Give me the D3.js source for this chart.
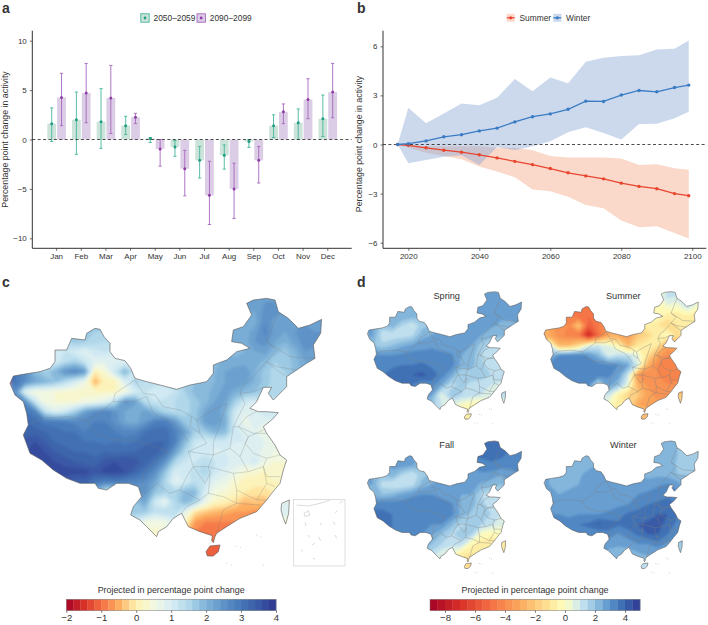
<!DOCTYPE html>
<html>
<head>
<meta charset="utf-8">
<script src="https://cdn.jsdelivr.net/npm/d3@7"></script>
<style>
  html, body { margin: 0; background: #fff; }
  svg { display: block; font-family: "Liberation Sans", Arial, sans-serif; }
  text { fill: #333; }
</style>
</head>
<body>
<div id="plot"></div>
<script>
// ---- panel a: monthly change
const months = ["Jan","Feb","Mar","Apr","May","Jun","Jul","Aug","Sep","Oct","Nov","Dec"];
const mid2050 = [1.6,2.0,1.8,1.4,0.1,-0.75,-2.1,-1.6,-0.2,1.4,1.7,2.1];
const low2050 = [-0.2,-1.5,-0.9,0.5,-0.3,-1.7,-3.9,-3.0,-0.8,0.2,0.0,0.3];
const high2050 = [3.2,4.8,5.15,2.35,0.2,-0.1,-0.7,-0.55,0.0,2.5,3.1,4.5];
const mid2090 = [4.25,4.7,4.2,2.25,-0.95,-2.95,-5.65,-5.0,-2.1,2.8,4.05,4.8];
const low2090 = [1.4,1.7,0.6,1.6,-2.7,-5.7,-8.6,-8.0,-4.4,1.6,2.1,2.2];
const high2090 = [6.7,7.7,7.5,2.65,0.0,-1.1,-2.2,-2.4,-0.7,3.6,6.15,7.7];

// ---- panel b: seasonal trend
const years = [2017,2020,2025,2030,2035,2040,2045,2050,2055,2060,2065,2070,2075,2080,2085,2090,2095,2099];
const winterMid = [0,0.05,0.22,0.47,0.6,0.83,1.0,1.38,1.7,1.87,2.15,2.65,2.63,3.02,3.3,3.22,3.48,3.63];
const winterHigh = [0,2.25,1.3,1.9,2.5,2.4,2.85,4.0,3.25,4.1,3.75,5.05,5.3,5.4,5.45,5.8,5.85,6.35];
const winterLow = [0,-1.15,-0.95,-0.75,-0.65,-1.25,-0.15,-0.35,-0.1,0.2,0.75,1.05,0.7,0.3,1.25,1.27,1.6,2.0];
const summerMid = [0,-0.05,-0.2,-0.35,-0.47,-0.63,-0.82,-1.03,-1.23,-1.47,-1.73,-1.92,-2.1,-2.36,-2.56,-2.7,-3.0,-3.13];
const summerHigh = [0,0,-0.1,-0.1,-0.1,-0.1,-0.2,-0.2,-0.35,-0.7,-0.8,-0.8,-0.8,-0.85,-1.25,-1.2,-1.45,-1.55];
const summerLow = [0,-0.2,-0.5,-0.7,-0.9,-1.35,-1.65,-2.0,-2.75,-2.85,-3.2,-3.7,-3.9,-4.65,-5.05,-5.0,-5.4,-5.75];

// ---- maps: outline and borders, in map units
const chinaOutline = [[30,340],[40,318],[75,312],[120,305],[150,295],[165,275],[165,240],[200,240],[215,205],[255,210],[260,190],[285,175],[300,178],[312,200],[330,220],[330,245],[345,265],[375,272],[392,295],[405,325],[440,335],[480,345],[530,358],[570,345],[620,335],[640,310],[640,285],[680,270],[710,245],[750,235],[725,220],[695,215],[700,180],[730,170],[755,135],[740,100],[760,90],[800,85],[825,90],[835,125],[865,145],[895,175],[930,165],[965,148],[962,190],[940,225],[945,265],[920,280],[890,300],[860,320],[860,350],[820,390],[805,370],[815,352],[790,352],[770,395],[750,415],[775,425],[800,425],[835,428],[815,450],[790,470],[800,490],[825,525],[840,555],[860,570],[850,600],[840,640],[815,670],[800,690],[770,725],[720,745],[680,770],[650,790],[645,800],[640,818],[635,812],[637,797],[600,785],[565,770],[545,730],[520,745],[500,770],[475,785],[470,800],[440,770],[420,750],[392,735],[400,710],[425,680],[415,650],[385,640],[350,640],[320,660],[295,655],[285,640],[240,640],[200,625],[160,600],[125,570],[90,550],[70,495],[85,465],[80,430],[70,395],[45,375],[30,340]];
const taiwanOutline = [[845,700],[868,690],[866,730],[857,762],[850,745],[843,720],[845,700]];
const hainanOutline = [[618,845],[630,828],[660,825],[655,845],[640,858],[622,858],[618,845]];
const provinceBorders = [
  [[85,465],[120,445],[200,440],[260,450],[290,435],[340,395],[345,370],[405,330]],
  [[260,450],[285,490],[345,510],[395,510],[450,525],[505,545]],
  [[505,545],[470,570],[430,610],[425,680]],
  [[340,395],[400,395],[440,380],[460,430],[520,460],[540,480],[565,515]],
  [[405,330],[430,370],[465,375],[490,410],[540,420],[575,440]],
  [[575,440],[570,470],[600,490],[590,450],[575,440]],
  [[590,450],[640,420],[680,400]],
  [[600,490],[620,520],[565,545],[640,555]],
  [[680,400],[660,460],[640,520],[640,555],[690,535],[700,470],[735,400]],
  [[735,400],[720,370],[760,365],[790,352]],
  [[860,320],[830,300],[800,275],[830,240],[800,215],[835,125]],
  [[800,275],[760,320],[730,345],[720,370]],
  [[800,215],[870,260],[945,265]],
  [[800,275],[830,290],[890,300]],
  [[770,425],[740,440],[715,470],[760,490],[800,490]],
  [[700,470],[715,470],[745,500],[720,560],[690,535]],
  [[745,500],[790,480]],
  [[745,500],[735,520],[760,550],[800,565],[840,555]],
  [[720,560],[745,605],[790,590],[800,565]],
  [[640,555],[625,590],[700,610],[745,605]],
  [[565,545],[580,590],[625,590]],
  [[580,590],[615,640],[630,610],[625,590]],
  [[700,610],[710,660],[710,700],[780,705]],
  [[790,590],[800,640],[770,690],[710,660]],
  [[790,590],[800,620],[840,620]],
  [[800,640],[825,650]],
  [[770,690],[800,690]],
  [[710,700],[670,720],[650,790]],
  [[630,610],[625,670],[600,690],[540,660],[560,620],[580,590]],
  [[425,680],[470,640],[510,670],[540,660]],
  [[545,730],[560,710],[600,690]],
  [[625,670],[670,680],[710,700]]
];
const smallIslands = [[770,795],[782,800],[708,828],[722,832],[680,880],[695,885],[790,885]];
const insetLines = [
  [[890,705],[925,708],[960,700],[990,690]],
  [[912,730],[925,722],[930,735],[915,740],[912,730]],
  [[1018,700],[1030,692]],[[1005,730],[1012,722]],[[1000,755],[1005,765]],
  [[915,758],[918,768]],[[960,758],[965,765]],[[925,795],[928,802]],
  [[955,800],[962,812]],[[935,825],[945,820]],[[1005,795],[1010,805]],
  [[905,838],[908,845]],[[938,865],[946,868]]
];

const _ = null;
// annual change on a 30-unit grid starting at map unit (30,80)
const fieldAnnual = [
  [_,_,_,_,_,_,_,_,_,_,_,_,_,_,_,_,_,_,_,_,_,_,_,_,2.3,2.4,2.4],
  [_,_,_,_,_,_,_,_,_,_,_,_,_,_,_,_,_,_,_,_,_,_,_,2.2,2.2,2.5,2.5],
  [_,_,_,_,_,_,_,_,_,_,_,_,_,_,_,_,_,_,_,_,_,_,_,2.0,2.1,2.6,2.3,2.2,_,_,2.2],
  [_,_,_,_,_,_,_,_,1.6,1.6,_,_,_,_,_,_,_,_,_,_,_,_,2.0,2.1,2.3,2.7,2.3,2.2,2.4,2.5,2.4],
  [_,_,_,_,_,_,1.7,1.6,1.5,1.4,_,_,_,_,_,_,_,_,_,_,_,_,2.0,2.1,2.4,2.5,2.2,2.0,2.3,2.5,2.5],
  [_,_,_,_,1.0,1.2,1.0,0.9,1.1,1.2,_,_,_,_,_,_,_,_,_,_,_,_,1.9,2.0,2.2,2.3,1.9,1.7,2.0,2.4,2.3],
  [_,_,_,_,1.0,1.4,1.6,1.2,0.9,0.8,0.9,0.9,_,_,_,_,_,_,_,_,1.9,2.1,2.1,2.1,2.1,1.9,1.6,1.6,1.9,2.2],
  [_,_,_,1.6,2.0,2.5,2.7,2.4,0.0,0.4,1.2,2.0,1.2,_,_,_,_,_,_,_,2.0,2.2,2.3,2.4,2.0,1.7,1.5,1.6,1.9],
  [3.0,2.6,2.2,2.0,1.8,1.4,1.0,0.6,-0.5,0.1,0.1,0.9,1.5,1.4,1.3,1.3,_,1.7,1.8,1.9,2.0,2.2,2.4,2.3,2.0,1.7,1.5,1.5],
  [2.6,0.8,0.5,0.5,0.4,0.4,0.3,0.3,0.2,0.2,0.2,0.5,1.0,1.2,1.1,1.0,1.2,1.6,1.9,1.9,2.1,2.3,2.1,1.9,1.8,1.6,1.5],
  [_,2.6,1.2,0.5,0.4,0.4,0.4,0.5,0.6,0.8,1.4,2.5,2.3,1.4,1.2,1.3,1.4,1.5,1.7,1.9,2.2,2.2,1.6,1.1,1.0],
  [_,3.0,2.8,1.3,0.9,1.1,1.6,2.3,2.6,2.8,2.5,2.2,2.0,2.3,1.9,1.5,1.4,1.5,1.7,2.2,2.4,2.0,1.1,0.8,0.9,1.2,1.1],
  [_,3.2,3.1,2.9,2.9,2.8,2.7,2.7,2.8,2.8,2.5,2.2,2.1,2.4,2.8,2.9,2.4,1.7,1.7,2.3,2.4,2.1,1.0,0.7,0.9,0.8],
  [_,3.3,3.3,3.2,3.1,3.0,3.0,2.8,2.9,2.9,2.8,2.7,2.7,3.0,3.1,3.1,2.8,2.3,1.6,1.7,2.0,1.9,1.1,0.9,0.8,0.7],
  [_,3.5,3.6,3.4,3.2,3.1,3.1,3.0,3.0,2.9,3.0,2.9,3.0,3.1,3.2,3.2,2.8,1.9,1.2,1.0,1.1,1.1,1.0,1.0,0.9,0.8,0.7],
  [_,_,3.7,3.6,3.4,3.3,3.2,3.2,3.1,3.2,3.1,3.2,3.2,3.4,3.3,3.1,2.3,1.5,1.1,1.1,0.9,1.0,0.9,0.9,0.9,0.7,0.6,0.6],
  [_,_,_,3.7,3.6,3.5,3.4,3.3,3.3,3.5,3.6,3.6,3.5,3.3,3.0,2.5,1.5,1.2,1.2,1.4,1.2,1.1,0.9,0.9,1.1,0.6,0.4,0.4],
  [_,_,_,_,3.7,3.7,3.7,3.7,3.5,3.7,3.7,3.6,3.3,3.0,2.6,1.8,1.0,1.1,1.3,1.6,1.1,0.9,0.7,0.4,0.3,0.2,0.3],
  [_,_,_,_,_,_,3.3,3.3,3.0,2.8,2.9,2.8,2.7,2.6,2.2,1.5,0.8,1.0,1.4,1.2,0.8,0.7,0.3,0.1,0.1,0.1,0.2],
  [_,_,_,_,_,_,_,_,_,1.2,1.2,_,_,2.5,1.8,1.6,1.5,1.9,1.9,1.0,0.5,0.4,0.2,0.0,-0.1,-0.1],
  [_,_,_,_,_,_,_,_,_,_,_,_,1.8,2.2,1.1,0.7,1.5,2.0,1.6,0.7,0.2,0.1,-0.1,-0.4,-0.3,-0.4,_,0.8],
  [_,_,_,_,_,_,_,_,_,_,_,_,1.7,1.7,1.3,1.4,1.4,0.8,-0.1,-0.3,-0.4,-0.5,-0.6,-0.6,-0.7,_,_,1.0],
  [_,_,_,_,_,_,_,_,_,_,_,_,_,0.6,0.5,0.6,1.0,0.2,-0.6,-0.8,-0.8,-0.8,-0.8,_,_,_,_,0.4],
  [_,_,_,_,_,_,_,_,_,_,_,_,_,_,0.3,_,_,_,-0.8,-0.9,-0.9,-0.9],
  [_,_,_,_,_,_,_,_,_,_,_,_,_,_,_,_,_,_,_,_,-1.0],
  [_,_,_,_,_,_,_,_,_,_,_,_,_,_,_,_,_,_,_,-1.1,-1.1],
  [_]
];
// seasonal change on a 60-unit grid starting at the same corner
const fieldSpring = [
  [_,_,_,_,_,_,_,_,_,_,_,_,2.8,2.8],
  [_,_,_,_,_,_,_,_,_,_,_,2.6,2.8,2.8,2.8],
  [_,_,_,2.5,2.4,_,_,_,_,_,_,2.6,2.7,2.6,2.6,2.6],
  [_,_,2.3,1.5,0.9,1.8,_,_,_,_,2.5,2.6,2.6,2.4,2.4],
  [2.6,1.2,1.1,1.2,1.4,2.3,2.5,2.5,2.5,2.6,2.6,2.5,2.2],
  [_,1.6,2.0,2.4,2.6,2.8,2.9,2.7,2.5,2.6,2.5,1.8,1.4,1.6],
  [_,3.0,3.0,3.1,3.3,3.2,3.2,3.2,3.1,2.5,2.3,1.5,1.2,1.0],
  [_,3.3,3.4,3.5,3.5,3.6,3.4,3.4,3.3,2.3,2.2,1.6,1.3,1.1],
  [_,_,3.7,3.9,4.0,4.2,3.8,3.3,2.5,1.5,1.7,1.8,1.5,1.2],
  [_,_,_,_,3.5,3.0,3.3,2.5,1.3,1.6,1.4,1.2,1.0,0.9],
  [_,_,_,_,_,_,2.6,0.5,2.0,1.5,1.3,1.0,0.9,1.2],
  [_,_,_,_,_,_,_,1.0,0.7,0.1,-0.3,-0.5,-0.5,0.6],
  [_,_,_,_,_,_,_,_,_,-1.0,-1.0]
];
const fieldSummer = [
  [_,_,_,_,_,_,_,_,_,_,_,_,1.2,1.0],
  [_,_,_,_,_,_,_,_,_,_,_,-0.5,0.4,0.2,1.2],
  [_,_,_,-5,-5,_,_,_,_,_,_,0,-0.8,-0.8,-0.5,-0.8],
  [_,_,-4,-2,-5.5,-4.5,_,_,_,_,-0.5,-1,-1.5,-1,-0.5],
  [-3,-3.8,-4.2,-4.5,-7.5,-5,-3,-3,-3.5,-2,-1.5,-0.5,0],
  [1,-2.5,-2.5,-1.5,0.5,1,0.5,-0.5,-2.5,-1,-0.5,-1,-3.2,-3],
  [_,3,3.2,3.3,2.9,2.2,0.8,1.2,1.2,0.5,-1.2,-3.2,-4,-3.6],
  [_,3.2,3.5,3.4,3.4,3.2,3.1,3,2.5,0.8,-2.8,-4,-4.2,-4.2],
  [_,_,3.4,3.4,3.4,3.4,3.1,2.8,1,-3.6,-4,-4,-4.2,-4.5],
  [_,_,_,_,3,1,2.8,2,0.5,-2.8,-3.6,-4,-4,-3.6],
  [_,_,_,_,_,_,1,-0.5,-1.5,-2,-3.2,-3.8,-3.6,-2],
  [_,_,_,_,_,_,_,-0.8,-1.2,-3,-3.2,-3.2,-3,-2],
  [_,_,_,_,_,_,_,_,_,-2.5,-2.5]
];
const fieldFall = [
  [_,_,_,_,_,_,_,_,_,_,_,_,3.6,3.6],
  [_,_,_,_,_,_,_,_,_,_,_,3.6,3.7,3.6,3.4],
  [_,_,_,2.8,2.6,_,_,_,_,_,_,3.3,3.4,3.3,3.3,3.4],
  [_,_,2.4,1.5,1.0,1.8,_,_,_,_,2.8,2.9,2.8,2.5,2.6],
  [2.5,1.3,1.0,1.0,1.3,2.2,2.5,2.5,2.6,2.7,2.7,2.4,2.2],
  [_,2.0,2.2,2.6,2.9,3.0,3.0,2.8,2.5,2.5,2.5,1.5,1.1,1.3],
  [_,3.4,3.4,3.3,3.3,3.2,3.2,3.3,3.1,2.3,2.2,1.7,1.2,1.0],
  [_,3.6,3.5,3.4,3.3,3.4,3.4,3.4,3.2,2.3,1.9,1.7,1.5,1.0],
  [_,_,3.5,3.4,3.3,3.2,3.0,3.0,2.2,1.4,1.6,1.5,1.1,0.7],
  [_,_,_,_,3.0,3.0,2.6,2.0,1.4,1.8,1.6,0,-0.3,-0.2],
  [_,_,_,_,_,_,2.0,1.5,1.2,1.3,-0.3,-0.8,-1.0,-0.6],
  [_,_,_,_,_,_,_,0.6,0.3,-0.8,-1.0,-1.0,-1.0,-0.6],
  [_,_,_,_,_,_,_,_,_,-1.3,-1.3]
];
const fieldWinter = [
  [_,_,_,_,_,_,_,_,_,_,_,_,2.2,2.0],
  [_,_,_,_,_,_,_,_,_,_,_,2.2,2.3,2.0,1.8],
  [_,_,_,2.2,2.3,_,_,_,_,_,_,2.2,2.3,1.9,1.9,1.9],
  [_,_,2.3,2.4,2.7,2.8,_,_,_,_,2.3,2.4,2.3,2.0,2.0],
  [2.5,2.3,2.4,2.5,2.9,2.9,2.6,2.5,2.6,2.7,2.8,2.9,3.1],
  [_,2.5,2.6,2.6,2.7,2.6,2.6,2.7,2.8,3.0,3.1,3.3,3.4,3.2],
  [_,2.7,2.7,2.7,2.8,2.8,2.8,2.9,3.0,3.2,3.5,3.6,3.7,3.5],
  [_,3.0,2.9,3.0,3.0,3.0,3.1,3.3,3.6,3.8,3.8,4.0,4.0,3.6],
  [_,_,3.2,3.5,3.6,4.1,3.8,3.6,3.7,4.0,4.1,4.1,3.9,3.3],
  [_,_,_,_,3.3,3.1,3.3,2.9,3.3,3.6,4.0,4.0,3.5,3.0],
  [_,_,_,_,_,_,2.6,2.6,2.7,3.0,3.0,3.3,2.9,1.7],
  [_,_,_,_,_,_,_,2.2,2.2,2.4,2.6,2.5,2.5,1.7],
  [_,_,_,_,_,_,_,_,_,1.2,1.2]
];

// colour ramps for the two map legends
const annualStops = [-2,-1.5,-1,-0.5,0,0.5,1,1.5,2,2.5,3,3.5,4];
const annualColors = ["#a50026","#d73027","#f46d43","#fdae61","#fff2b0","#f2f8e0","#d8edf5","#b0d8ea","#7fb3d8","#5f93c8","#4476b6","#3a59a6","#2f3690"];
const annualTicks = [-2,-1,0,1,2,3,4];
const seasonStops = [-9,-7,-5,-3,-1,0,1,2,2.5,3,3.5,4,5];
const seasonColors = ["#a50026","#d73027","#f46d43","#fba95c","#fee79a","#ffffc0","#cde8f2","#94c3e0","#74a9d6","#5a93ca","#477cbb","#3a66ae","#2f3690"];
const seasonTicks = [-8,-6,-4,-2,0,2,4];

const width = 708, height = 625;
const svg = d3.select("#plot").append("svg").attr("width", width).attr("height", height);
const fmt = d => String(d).replace("-", "\u2212");

function styleAxis(g, size) {
  g.selectAll("path.domain").attr("stroke", "#333").attr("stroke-width", 1);
  g.selectAll(".tick line").attr("stroke", "#333").attr("stroke-width", 0.7);
  g.selectAll(".tick text").attr("font-size", size).attr("fill", "#333").attr("font-family", "Liberation Sans");
}
function letter(t, x, y) {
  svg.append("text").attr("x", x).attr("y", y).attr("font-size", 14).attr("font-weight", "bold").attr("fill", "#000").text(t);
}
function yTitle(x, y) {
  svg.append("text").attr("transform", "translate(" + x + "," + y + ") rotate(-90)")
    .attr("text-anchor", "middle").attr("font-size", 8.8).text("Percentage point change in activity");
}

// ---- panel a
const aLeft = 32.3, aRight = 351.7, aBottom = 248.3, aTop = 30.7;
const aY = d3.scaleLinear().domain([-10, 10]).range([238.3, 40.7]);
const aX = d3.scaleBand().domain(months).range([44.3, 340.1]);
const dodge = 4.9, barW = 8.8;
const aG = svg.append("g");
const groupsA = [
  { mid: mid2050, low: low2050, high: high2050, off: -dodge, bar: "#cce3da", line: "#45b59c", dot: "#1f9e83" },
  { mid: mid2090, low: low2090, high: high2090, off: dodge, bar: "#dccde6", line: "#a765bd", dot: "#8e3fa6" }
];
groupsA.forEach(function(s) {
  const cx = (d, i) => aX(months[i]) + aX.bandwidth() / 2 + s.off;
  aG.selectAll(null).data(s.mid).enter().append("rect")
    .attr("x", (d, i) => cx(d, i) - barW / 2).attr("width", barW)
    .attr("y", d => Math.min(aY(d), aY(0))).attr("height", d => Math.abs(aY(d) - aY(0)))
    .attr("fill", s.bar);
});
groupsA.forEach(function(s) {
  const cx = i => aX(months[i]) + aX.bandwidth() / 2 + s.off;
  s.mid.forEach(function(d, i) {
    aG.append("line").attr("x1", cx(i)).attr("x2", cx(i)).attr("y1", aY(s.low[i])).attr("y2", aY(s.high[i]))
      .attr("stroke", s.line).attr("stroke-width", 0.9);
    [s.low[i], s.high[i]].forEach(v => aG.append("line").attr("x1", cx(i) - 1.6).attr("x2", cx(i) + 1.6)
      .attr("y1", aY(v)).attr("y2", aY(v)).attr("stroke", s.line).attr("stroke-width", 0.9));
    aG.append("circle").attr("cx", cx(i)).attr("cy", aY(d)).attr("r", 1.5).attr("fill", s.dot);
  });
});
aG.append("line").attr("x1", aLeft).attr("x2", aRight).attr("y1", aY(0)).attr("y2", aY(0))
  .attr("stroke", "#222").attr("stroke-width", 0.8).attr("stroke-dasharray", "3,2.4");
svg.append("g").attr("transform", "translate(" + aLeft + ",0)")
  .call(d3.axisLeft(aY).tickValues([-10,-5,0,5,10]).tickSize(2.5).tickFormat(fmt))
  .call(g => g.select("path.domain").attr("d", "M0," + aTop + "V" + aBottom))
  .call(g => styleAxis(g, 8));
svg.append("g").attr("transform", "translate(0," + aBottom + ")")
  .call(d3.axisBottom(aX).tickSize(2.5))
  .call(g => g.select("path.domain").attr("d", "M" + aLeft + ",0H" + aRight))
  .call(g => styleAxis(g, 8));
yTitle(7.5, 139.5);
letter("a", 2, 13);

[["2050\u20132059", 140.8, 153.5, groupsA[0]], ["2090\u20132099", 197, 209.8, groupsA[1]]].forEach(function(k) {
  svg.append("rect").attr("x", k[1]).attr("y", 13.8).attr("width", 8.4).attr("height", 8.4)
    .attr("fill", k[3].bar).attr("stroke", k[3].line).attr("stroke-width", 0.9);
  svg.append("circle").attr("cx", k[1] + 4.2).attr("cy", 18).attr("r", 1.4).attr("fill", k[3].dot);
  svg.append("text").attr("x", k[2]).attr("y", 21).attr("font-size", 8.4).text(k[0]);
});

// ---- panel b
const bLeft = 383, bRight = 706.3, bBottom = 248.3, bTop = 30.7;
const bX = d3.scaleLinear().domain([2020, 2100]).range([408.3, 692.3]);
const bY = d3.scaleLinear().domain([-6, 6]).range([242.7, 46.3]);
const area = d3.area().x((d, i) => bX(years[i])).y0(d => bY(d[0])).y1(d => bY(d[1]));
const lineGen = d3.line().x((d, i) => bX(years[i])).y(d => bY(d));
const seriesB = [
  { mid: summerMid, low: summerLow, high: summerHigh, band: "#f3a98a", line: "#e8452f" },
  { mid: winterMid, low: winterLow, high: winterHigh, band: "#8fabd6", line: "#3a7cc4" }
];
seriesB.forEach(function(s) {
  svg.append("path").attr("d", area(s.low.map((v, i) => [v, s.high[i]])))
    .attr("fill", s.band).attr("fill-opacity", 0.45);
});
svg.append("line").attr("x1", bLeft).attr("x2", bRight).attr("y1", bY(0)).attr("y2", bY(0))
  .attr("stroke", "#222").attr("stroke-width", 0.8).attr("stroke-dasharray", "3,2.4");
seriesB.forEach(function(s) {
  svg.append("path").attr("d", lineGen(s.mid)).attr("fill", "none").attr("stroke", s.line).attr("stroke-width", 1.3);
  svg.selectAll(null).data(s.mid).enter().append("circle")
    .attr("cx", (d, i) => bX(years[i])).attr("cy", d => bY(d)).attr("r", 1.7).attr("fill", s.line);
});
svg.append("g").attr("transform", "translate(" + bLeft + ",0)")
  .call(d3.axisLeft(bY).tickValues([-6,-3,0,3,6]).tickSize(2.5).tickFormat(fmt))
  .call(g => g.select("path.domain").attr("d", "M0," + bTop + "V" + bBottom))
  .call(g => styleAxis(g, 8));
svg.append("g").attr("transform", "translate(0," + bBottom + ")")
  .call(d3.axisBottom(bX).tickValues([2020,2040,2060,2080,2100]).tickSize(2.5).tickFormat(d3.format("d")))
  .call(g => g.select("path.domain").attr("d", "M" + bLeft + ",0H" + bRight))
  .call(g => styleAxis(g, 8));
yTitle(361.5, 144);
letter("b", 357, 13);

[["Summer", 506.7, 519.5, seriesB[0]], ["Winter", 553.3, 566, seriesB[1]]].forEach(function(k) {
  svg.append("rect").attr("x", k[1]).attr("y", 13.8).attr("width", 8).attr("height", 8)
    .attr("fill", k[3].band).attr("fill-opacity", 0.45);
  svg.append("line").attr("x1", k[1]).attr("x2", k[1] + 8).attr("y1", 17.8).attr("y2", 17.8)
    .attr("stroke", k[3].line).attr("stroke-width", 1.2);
  svg.append("circle").attr("cx", k[1] + 4).attr("cy", 17.8).attr("r", 1.6).attr("fill", k[3].line);
  svg.append("text").attr("x", k[2]).attr("y", 21).attr("font-size", 8.4).text(k[0]);
});

// ---- maps
// blur radius is in map units, so it shrinks with the small maps
const blur = svg.append("defs").append("filter").attr("id", "soft")
  .attr("x", "-5%").attr("y", "-5%").attr("width", "110%").attr("height", "110%");
blur.append("feGaussianBlur").attr("stdDeviation", 5);

function fillGaps(rows, cols) {
  // cells off the map take their neighbours' values so contours reach the clip edge
  let grid = rows.map(r => d3.range(cols).map(i => r[i] === undefined ? null : r[i]));
  for (let pass = 0; pass < 40; pass++) {
    let missing = 0;
    grid = grid.map((r, j) => r.map(function(v, i) {
      if (v !== null) return v;
      const near = [[i-1,j],[i+1,j],[i,j-1],[i,j+1]]
        .map(p => grid[p[1]] ? grid[p[1]][p[0]] : null)
        .filter(x => x !== null && x !== undefined);
      if (!near.length) { missing++; return null; }
      return d3.mean(near);
    }));
    if (!missing) break;
  }
  return grid;
}

const toPoly = ring => ({ type: "Polygon", coordinates: [ring] });
const plainPath = d3.geoPath();
let clipCount = 0;

function drawMap(rows, cols, cell, opt) {
  const g = svg.append("g").attr("transform", "translate(" + opt.tx + "," + opt.ty + ") scale(" + opt.k + ")");
  const id = "land" + (clipCount++);
  const clip = g.append("clipPath").attr("id", id);
  [chinaOutline, taiwanOutline, hainanOutline].forEach(r => clip.append("path").attr("d", plainPath(toPoly(r))));

  const grid = fillGaps(rows, cols);
  const m = grid.length;
  const values = grid.flat();
  const thresholds = d3.range(opt.min, opt.max, opt.step);
  const colour = v => opt.ramp(v + opt.step / 2);
  const contourPath = d3.geoPath(d3.geoIdentity().scale(cell).translate([30, 80]));
  const field = g.append("g").attr("clip-path", "url(#" + id + ")").append("g").attr("filter", "url(#soft)");
  field.append("rect").attr("x", 0).attr("y", 60).attr("width", 1000).attr("height", 820)
    .attr("fill", opt.ramp(d3.min(values)));
  field.selectAll("path").data(d3.contours().size([cols, m]).thresholds(thresholds)(values)).enter().append("path")
    .attr("d", contourPath).attr("fill", d => colour(d.value));

  provinceBorders.forEach(function(b) {
    g.append("path").attr("d", plainPath({ type: "LineString", coordinates: b }))
      .attr("fill", "none").attr("stroke", "#7d7d7d").attr("stroke-opacity", opt.borderO)
      .attr("stroke-width", opt.borderW / opt.k);
  });
  [chinaOutline, taiwanOutline, hainanOutline].forEach(function(r) {
    g.append("path").attr("d", plainPath(toPoly(r))).attr("fill", "none")
      .attr("stroke", "#555").attr("stroke-width", opt.outlineW / opt.k);
  });
  smallIslands.forEach(function(p) {
    g.append("circle").attr("cx", p[0]).attr("cy", p[1]).attr("r", 0.5 / opt.k).attr("fill", "#c4c4c4");
  });
  return g;
}

function legend(stops, colors, ticks, min, max, step, x0, x1, title) {
  const ramp = d3.scaleLinear().domain(stops).range(colors);
  const x = d3.scaleLinear().domain([min, max]).range([x0, x1]);
  const top = 599.3, bottom = 610.7;
  svg.append("g").selectAll("rect").data(d3.range(min, max - step / 2, step)).enter().append("rect")
    .attr("x", d => x(d)).attr("width", d => x(d + step) - x(d) + 0.3)
    .attr("y", top).attr("height", bottom - top).attr("fill", d => ramp(d + step / 2));
  svg.append("rect").attr("x", x0).attr("y", top).attr("width", x1 - x0).attr("height", bottom - top)
    .attr("fill", "none").attr("stroke", "#777").attr("stroke-width", 0.5);
  svg.append("g").attr("transform", "translate(0," + bottom + ")")
    .call(d3.axisBottom(x).tickValues(ticks).tickSize(2).tickPadding(1.5).tickFormat(fmt))
    .call(g => g.select("path.domain").remove())
    .call(g => styleAxis(g, 9.6));
  svg.append("text").attr("x", (x0 + x1) / 2).attr("y", 593).attr("text-anchor", "middle")
    .attr("font-size", 8.9).text(title);
  return ramp;
}

const annualRamp = legend(annualStops, annualColors, annualTicks, -2, 4, 0.2, 66.3, 276, "Projected in percentage point change");
const seasonRamp = legend(seasonStops, seasonColors, seasonTicks, -9, 5, 0.5, 430, 640, "Projected in percentage point change");

const mapC = drawMap(fieldAnnual, 32, 30, { tx: 0, ty: 270, k: 1 / 3, min: -2, max: 4, step: 0.2, ramp: annualRamp, borderW: 0.45, borderO: 0.6, outlineW: 0.6 });
mapC.append("rect").attr("x", 880).attr("y", 688).attr("width", 155).attr("height", 200)
  .attr("fill", "none").attr("stroke", "#cfcfcf").attr("stroke-width", 2);
insetLines.forEach(function(b) {
  mapC.append("path").attr("d", plainPath({ type: "LineString", coordinates: b }))
    .attr("fill", "none").attr("stroke", "#bbb").attr("stroke-width", 1.6);
});

const seasonMaps = [
  { name: "Spring", rows: fieldSpring, tx: 362.4, ty: 277.6, labelX: 446.7, labelY: 298.7 },
  { name: "Summer", rows: fieldSummer, tx: 539.1, ty: 277.6, labelX: 623.3, labelY: 298.7 },
  { name: "Fall", rows: fieldFall, tx: 362.4, ty: 426.9, labelX: 446.7, labelY: 447.7 },
  { name: "Winter", rows: fieldWinter, tx: 539.1, ty: 426.9, labelX: 623.3, labelY: 447.7 }
];
seasonMaps.forEach(function(s) {
  drawMap(s.rows, 16, 60, { tx: s.tx, ty: s.ty, k: 0.165, min: -9, max: 5, step: 0.5, ramp: seasonRamp, borderW: 0.45, borderO: 0.8, outlineW: 0.55 });
  svg.append("text").attr("x", s.labelX).attr("y", s.labelY).attr("text-anchor", "middle")
    .attr("font-size", 9.2).text(s.name);
});
letter("c", 2, 287);
letter("d", 357, 287);
</script>
</body>
</html>
